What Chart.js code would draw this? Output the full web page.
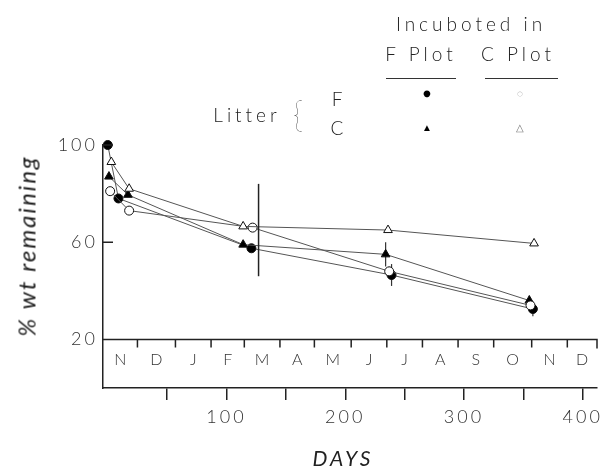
<!DOCTYPE html>
<html>
<head>
<meta charset="utf-8">
<script src="https://cdn.jsdelivr.net/npm/chart.js@4.4.0/dist/chart.umd.min.js"></script>
<style>
    html, body { margin: 0; padding: 0; background: #fff; }
    #wrap { position: relative; width: 605px; height: 469px; font-family: 'Lato', 'DejaVu Sans', sans-serif; font-weight: 300; color: #222; }
    #chart { position: absolute; left: 0; top: 0; }
    .lbl { position: absolute; white-space: nowrap; font-size: 19px; letter-spacing: 4px; transform: translate(-50%, -50%); }
    .mk { position: absolute; transform: translate(-50%, -50%); line-height: 1; }
    .rule { position: absolute; height: 0; border-top: 1.5px solid #333; }
    .ytitle { position: absolute; left: 26px; top: 246px; white-space: nowrap; font-size: 24px; font-style: italic; font-weight: 400; letter-spacing: 2px; transform: translate(-50%, -50%) rotate(-90deg); }
    .xtitle { position: absolute; left: 343px; top: 457px; white-space: nowrap; font-size: 21px; font-style: italic; font-weight: 400; letter-spacing: 3px; transform: translate(-50%, -50%); }
</style>
</head>
<body>
<div id="wrap">
    <canvas id="chart" width="605" height="469"></canvas>

    <div class="lbl" style="left:471px; top:23px;">Incuboted in</div>
    <div class="lbl" style="left:421px; top:53px;">F Plot</div>
    <div class="lbl" style="left:518px; top:53px;">C Plot</div>
    <div class="rule" style="left:386px; top:78px; width:70px;"></div>
    <div class="rule" style="left:485px; top:78px; width:73px;"></div>

    <div class="lbl" style="left:247px; top:114px;">Litter</div>
    <div class="lbl" style="left:298px; top:113px; font-size:36px; letter-spacing:0; font-weight:200;">{</div>
    <div class="lbl" style="left:337px; top:98px; letter-spacing:0;">F</div>
    <div class="lbl" style="left:337px; top:127px; letter-spacing:0;">C</div>
    <div class="mk" style="left:427px; top:93px; font-size:14px; color:#000;">●</div>
    <div class="mk" style="left:427px; top:127px; font-size:10px; color:#000;">▲</div>
    <div class="mk" style="left:520px; top:93px; font-size:9px; color:#bbb;">○</div>
    <div class="mk" style="left:520px; top:127px; font-size:10px; color:#777;">△</div>

    <div class="ytitle">% wt remaining</div>
    <div class="xtitle">DAYS</div>
</div>

<script>
// Litter F incubated in F plot (filled circles)
const daysFF = [0, 9, 121, 239, 358];
const pctFF = [100, 78, 57.5, 46.5, 32.5];
const errFF = [0, 0, 0, 4.5, 3];

// Litter C incubated in F plot (filled triangles)
const daysCF = [1, 17, 114, 234, 355];
const pctCF = [87, 79.5, 59, 55, 36];
const errCF = [0, 0, 0, 5, 2];

// Litter F incubated in C plot (open circles)
const daysFC = [2, 18, 122, 237, 356];
const pctFC = [81, 73, 66, 48, 34];
const errFC = [0, 0, 0, 2, 0];

// Litter C incubated in C plot (open triangles)
const daysCC = [3, 18, 114, 236, 359];
const pctCC = [93, 82, 66.5, 65, 59.5];
const errCC = [0, 0, 0, 0, 0];

// vertical marker near March
const markDays = [127, 127];
const markPct = [46, 84];

// axes
const dayTicks = [50, 100, 150, 200, 250, 300, 350, 400];
const dayLabels = [100, 200, 300, 400];
const pctTicks = [20, 60, 100];
const monthLabels = ['N', 'D', 'J', 'F', 'M', 'A', 'M', 'J', 'J', 'A', 'S', 'O', 'N', 'D'];
const monthEdges = [-4, 25, 57, 87, 115, 145, 174, 205, 235, 265, 295, 325, 357, 387, 412];

const INK = '#222';
const LINE = '#555';
const FONT = "'Lato', 'DejaVu Sans', sans-serif";

function toPoints(xs, ys) {
    return xs.map((d, i) => ({ x: d, y: ys[i] }));
}

function series(days, pct, style, fill) {
    return {
        data: toPoints(days, pct),
        borderColor: LINE,
        borderWidth: 1,
        pointStyle: style,
        pointRadius: style === 'circle' ? 4.5 : 5,
        pointBackgroundColor: fill,
        pointBorderColor: '#111',
        pointBorderWidth: 1,
        tension: 0,
        clip: false
    };
}

const errorSets = [
    { days: daysFF, pct: pctFF, err: errFF },
    { days: daysCF, pct: pctCF, err: errCF },
    { days: daysFC, pct: pctFC, err: errFC },
    { days: daysCC, pct: pctCC, err: errCC }
];

/**
 * Month band under the data, inward y ticks and error bars
 */
const bandPlugin = {
    id: 'band',
    beforeDraw(chart) {
        // wide spacing of the tick digits
        chart.ctx.letterSpacing = '3px';
    },
    beforeDatasetsDraw(chart) {
        const { ctx, scales: { x, y } } = chart;
        ctx.save();
        ctx.strokeStyle = '#333';
        ctx.lineWidth = 1.2;
        errorSets.forEach(s => {
            s.err.forEach((e, i) => {
                if (!e) return;
                const px = x.getPixelForValue(s.days[i]);
                ctx.beginPath();
                ctx.moveTo(px, y.getPixelForValue(s.pct[i] + e));
                ctx.lineTo(px, y.getPixelForValue(s.pct[i] - e));
                ctx.stroke();
            });
        });
        ctx.restore();
    },
    afterDraw(chart) {
        const { ctx, scales: { x, y } } = chart;
        const top = y.getPixelForValue(20);
        const left = x.getPixelForValue(monthEdges[0]);
        const right = x.getPixelForValue(monthEdges[monthEdges.length - 1]);

        ctx.save();
        ctx.letterSpacing = '0px';
        ctx.strokeStyle = INK;
        ctx.lineWidth = 1.5;
        ctx.beginPath();
        ctx.moveTo(left, top);
        ctx.lineTo(right, top);
        ctx.lineTo(right, top + 9);
        monthEdges.slice(1, -1).forEach(d => {
            const px = x.getPixelForValue(d);
            ctx.moveTo(px, top);
            ctx.lineTo(px, top + 8);
        });
        pctTicks.filter(v => v > 20).forEach(v => {
            const py = y.getPixelForValue(v);
            ctx.moveTo(left, py);
            ctx.lineTo(left + 10, py);
        });
        ctx.stroke();

        ctx.fillStyle = '#333';
        ctx.font = `300 16px ${FONT}`;
        ctx.textAlign = 'center';
        ctx.textBaseline = 'middle';
        monthLabels.forEach((m, i) => {
            const cx = (x.getPixelForValue(monthEdges[i]) + x.getPixelForValue(monthEdges[i + 1])) / 2;
            ctx.fillText(m, cx, top + 20);
        });
        ctx.restore();
    }
};

new Chart(document.getElementById('chart'), {
    type: 'line',
    data: {
        datasets: [
            {
                data: toPoints(markDays, markPct),
                borderColor: INK,
                borderWidth: 1.5,
                pointRadius: 0
            },
            series(daysCC, pctCC, 'triangle', '#fff'),
            series(daysFC, pctFC, 'circle', '#fff'),
            series(daysCF, pctCF, 'triangle', '#000'),
            series(daysFF, pctFF, 'circle', '#000')
        ]
    },
    options: {
        responsive: false,
        animation: false,
        layout: { padding: { left: 0, right: 8, top: 145, bottom: 0 } },
        plugins: {
            legend: { display: false },
            tooltip: { enabled: false }
        },
        scales: {
            x: {
                type: 'linear',
                min: monthEdges[0],
                max: monthEdges[monthEdges.length - 1],
                afterBuildTicks: s => { s.ticks = dayTicks.map(v => ({ value: v })); },
                afterFit: s => { s.height = 81; },
                grid: { display: true, drawOnChartArea: false, drawTicks: true, tickLength: 12, color: INK, lineWidth: 1.5 },
                border: { display: true, color: INK, width: 1.5 },
                ticks: {
                    padding: 6,
                    color: '#333',
                    autoSkip: false,
                    maxRotation: 0,
                    font: { family: FONT, size: 18, weight: 300 },
                    callback: v => dayLabels.includes(v) ? String(v) : ''
                }
            },
            y: {
                min: 0,
                max: 100,
                afterBuildTicks: s => { s.ticks = pctTicks.map(v => ({ value: v })); },
                afterFit: s => { s.width = 103; },
                grid: { display: false, drawTicks: false },
                border: { display: true, color: INK, width: 1.5 },
                ticks: {
                    padding: 5,
                    color: '#333',
                    font: { family: FONT, size: 18, weight: 300 }
                }
            }
        }
    },
    plugins: [bandPlugin]
});
</script>
</body>
</html>
